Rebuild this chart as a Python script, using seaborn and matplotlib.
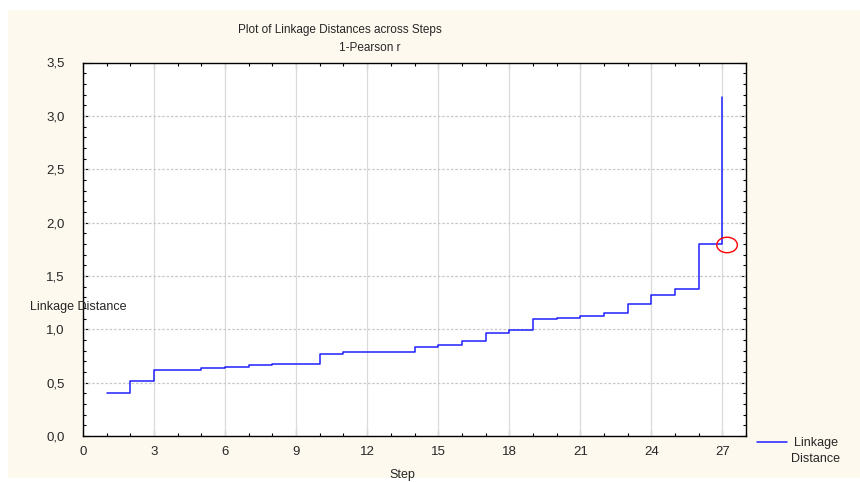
import numpy as np
import pandas as pd
import matplotlib
matplotlib.use("Agg")
import matplotlib.pyplot as plt
import seaborn as sns
from matplotlib.patches import Ellipse, Rectangle
from matplotlib.ticker import MultipleLocator, FuncFormatter
from matplotlib.lines import Line2D

# ---- data ----
steps = list(range(1, 28))
linkage_distance = [0.40, 0.52, 0.62, 0.62, 0.635, 0.648, 0.67, 0.677, 0.677,
                    0.766, 0.785, 0.785, 0.79, 0.835, 0.85, 0.89, 0.965, 0.99,
                    1.093, 1.106, 1.128, 1.152, 1.234, 1.318, 1.38, 1.797, 3.175]
x_ticks = [0, 3, 6, 9, 12, 15, 18, 21, 24, 27]
y_ticks = [0.0, 0.5, 1.0, 1.5, 2.0, 2.5, 3.0, 3.5]
title_main = "Plot of Linkage Distances across Steps"
title_sub = "1-Pearson r"
series_name = "Linkage\nDistance"
highlight_step = 27.2
highlight_value = 1.79

df = pd.DataFrame({"Step": steps, "Linkage Distance": linkage_distance})

sns.set_style("white")
plt.rcParams["font.family"] = ["Liberation Sans", "DejaVu Sans"]

W, H = 860, 482
fig = plt.figure(figsize=(W / 100, H / 100), dpi=100, facecolor="white")
# cream panel background
fig.patches.append(Rectangle((8 / W, (H - 478) / H), (W - 8) / W, (478 - 10) / H,
                             transform=fig.transFigure, facecolor="#fdf9ee",
                             edgecolor="none", zorder=-10))

ax = fig.add_axes([83 / W, (H - 436) / H, (746 - 83) / W, (436 - 62.5) / H])
ax.set_facecolor("white")

sns.lineplot(data=df, x="Step", y="Linkage Distance", ax=ax, color="#2020ff",
             linewidth=1.1, drawstyle="steps-post", estimator=None, zorder=3)

ax.set_xlim(0, 28)
ax.set_ylim(0, 3.5)
ax.set_xticks(x_ticks)
ax.set_yticks(y_ticks)
ax.xaxis.set_minor_locator(MultipleLocator(1))
ax.yaxis.set_minor_locator(MultipleLocator(0.1))
ax.yaxis.set_major_formatter(FuncFormatter(lambda v, p: f"{v:.1f}".replace(".", ",")))

ax.tick_params(which="both", direction="in", top=True, right=True, bottom=True, left=True,
               color="black", width=0.8)
ax.tick_params(which="major", length=4, labelsize=9.5)
ax.tick_params(axis="x", which="major", pad=7)
ax.tick_params(axis="y", which="major", pad=13)
ax.tick_params(which="minor", length=2.5)

ax.grid(False)
for xt in x_ticks[1:]:
    ax.axvline(xt, color="#dadada", lw=0.9, zorder=1)
for yt in y_ticks[1:-1]:
    ax.axhline(yt, color="#c8c8c8", lw=0.9, ls=(0, (2, 1.5)), zorder=1)

for s in ax.spines.values():
    s.set_visible(True)
    s.set_color("black")
    s.set_linewidth(1.0)

ax.set_xlabel("")
ax.set_ylabel("")

ax.add_patch(Ellipse((highlight_step, highlight_value), 0.87, 0.145,
                     fill=False, edgecolor="red", lw=1.0, zorder=4))

fig.text(340 / W, 1 - 30 / H, title_main, ha="center", va="center", fontsize=8.5)
fig.text(370 / W, 1 - 48 / H, title_sub, ha="center", va="center", fontsize=8.5)
fig.text(30 / W, 1 - 307 / H, "Linkage Distance", ha="left", va="center", fontsize=9,
         zorder=10)
fig.text(402 / W, 1 - 475 / H, "Step", ha="center", va="center", fontsize=9)

# legend
fig.lines.append(Line2D([757 / W, 787 / W], [1 - 442 / H, 1 - 442 / H],
                        transform=fig.transFigure, color="#2020ff", lw=1.1))
fig.text(816 / W, 1 - 451 / H, series_name, ha="center", va="center", fontsize=9,
         multialignment="center", linespacing=1.4)

fig.savefig("out.png", dpi=100, facecolor="white")
